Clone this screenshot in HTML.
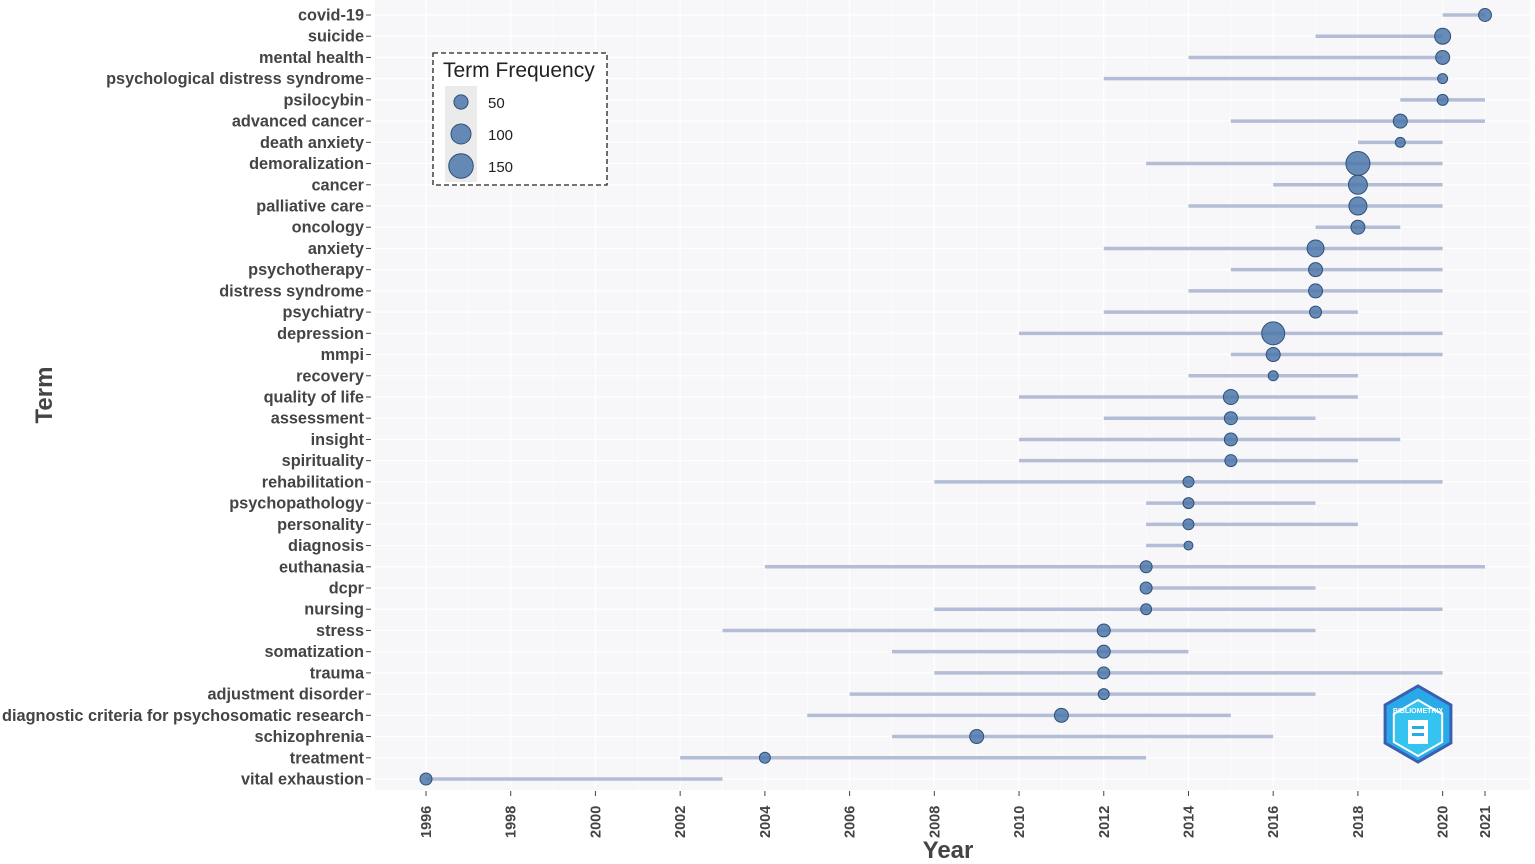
<!DOCTYPE html>
<html><head><meta charset="utf-8">
<style>
body{margin:0;background:#fff;font-family:"Liberation Sans",sans-serif;}
svg{display:block}
</style></head>
<body>
<svg id="chart" width="1535" height="864" xmlns="http://www.w3.org/2000/svg"></svg>
<script>
const terms=["covid-19","suicide","mental health","psychological distress syndrome","psilocybin","advanced cancer","death anxiety","demoralization","cancer","palliative care","oncology","anxiety","psychotherapy","distress syndrome","psychiatry","depression","mmpi","recovery","quality of life","assessment","insight","spirituality","rehabilitation","psychopathology","personality","diagnosis","euthanasia","dcpr","nursing","stress","somatization","trauma","adjustment disorder","diagnostic criteria for psychosomatic research","schizophrenia","treatment","vital exhaustion"];
const startYear=[2020,2017,2014,2012,2019,2015,2018,2013,2016,2014,2017,2012,2015,2014,2012,2010,2015,2014,2010,2012,2010,2010,2008,2013,2013,2013,2004,2013,2008,2003,2007,2008,2006,2005,2007,2002,1996];
const medianYear=[2021,2020,2020,2020,2020,2019,2019,2018,2018,2018,2018,2017,2017,2017,2017,2016,2016,2016,2015,2015,2015,2015,2014,2014,2014,2014,2013,2013,2013,2012,2012,2012,2012,2011,2009,2004,1996];
const endYear=[2021,2020,2020,2020,2021,2021,2020,2020,2020,2020,2019,2020,2020,2020,2018,2020,2020,2018,2018,2017,2019,2018,2020,2017,2018,2014,2021,2017,2020,2017,2014,2020,2017,2015,2016,2013,2003];
const freq=[42,64,49,25,30,49,25,144,90,81,49,72,49,49,36,132,49,25,56,42,42,36,30,30,30,20,36,36,30,42,42,36,30,49,49,30,36];
const xTicks=[1996,1998,2000,2002,2004,2006,2008,2010,2012,2014,2016,2018,2020,2021];
const legendVals=[50,100,150];

const svg=document.getElementById('chart');
const NS="http://www.w3.org/2000/svg";
function mk(t,a,p){const e=document.createElementNS(NS,t);for(const k in a)e.setAttribute(k,a[k]);(p||svg).appendChild(e);return e;}
const plotL=375,plotR=1530,plotT=0,plotB=790;
const x=y=>426+(y-1996)*(1485-426)/25;
const yPos=i=>15+i*(779-15)/(terms.length-1);
const rad=f=>Math.sqrt(f);

const bg=mk('rect',{x:plotL,y:plotT,width:plotR-plotL,height:plotB-plotT,fill:'#f7f7f9'});


for(let yr=1996;yr<=2021;yr++){mk('line',{x1:x(yr),x2:x(yr),y1:plotT,y2:plotB,stroke:'#ffffff','stroke-width':yr%2==0?1.2:0.6});}
terms.forEach((t,i)=>{mk('line',{x1:plotL,x2:plotR,y1:yPos(i),y2:yPos(i),stroke:'#ffffff','stroke-width':1.2});});

terms.forEach((t,i)=>{
  const tx=mk('text',{x:364,y:yPos(i)+5.5,'text-anchor':'end','font-size':16.3,'font-weight':'bold',fill:'#444'});
  tx.textContent=t;
  
  
  mk('line',{x1:366,x2:371,y1:yPos(i),y2:yPos(i),stroke:'#444','stroke-width':1});
});
xTicks.forEach(yr=>{
  mk('line',{x1:x(yr),x2:x(yr),y1:plotB+1,y2:plotB+6,stroke:'#444'});
  const tx=mk('text',{x:0,y:0,transform:`translate(${x(yr)+5},${plotB+48}) rotate(-90)`,'font-size':14.5,'font-weight':'bold',fill:'#444'});
  tx.textContent=yr;
  
  
});
const xt=mk('text',{x:948,y:858,'text-anchor':'middle','font-size':24,'font-weight':'bold',fill:'#444'});
xt.textContent='Year';


const yt=mk('text',{x:0,y:0,transform:'translate(52,395) rotate(-90)','text-anchor':'middle','font-size':24,'font-weight':'bold',fill:'#444'});
yt.textContent='Term';



terms.forEach((t,i)=>{
  const ln=mk('line',{x1:x(startYear[i]),x2:x(endYear[i]),y1:yPos(i),y2:yPos(i),stroke:'#b4bdd6','stroke-width':3.5});
  
  
});
terms.forEach((t,i)=>{
  const c=mk('circle',{cx:x(medianYear[i]),cy:yPos(i),r:rad(freq[i]),fill:'#4d78ab','fill-opacity':0.85,stroke:'#2f4f78','stroke-width':1});
  
  
});

const lg=mk('g',{});


mk('rect',{x:433,y:53,width:174,height:132,fill:'#fff',stroke:'#222','stroke-width':1.3,'stroke-dasharray':'5,3'},lg);
const lt=mk('text',{x:443,y:77,'font-size':21,fill:'#222'},lg);lt.textContent='Term Frequency';
mk('rect',{x:445,y:86,width:32,height:96,fill:'#ebebeb'},lg);
legendVals.forEach((v,k)=>{
  const cy=102+k*32;
  const c=mk('circle',{cx:461,cy:cy,r:rad(v),fill:'#4d78ab','fill-opacity':0.85,stroke:'#2f4f78'},lg);
  
  
  const t=mk('text',{x:488,y:cy+6,'font-size':15,fill:'#222'},lg);t.textContent=v;
});

const g=mk('g',{});


const cx=1418,cy=724,R=38;
let pts=[];for(let k=0;k<6;k++){const a=Math.PI/6+k*Math.PI/3;pts.push((cx+R*Math.cos(a)).toFixed(1)+','+(cy+R*Math.sin(a)).toFixed(1));}
mk('polygon',{points:pts.join(' '),fill:'#2aa9e8',stroke:'#3a5fb0','stroke-width':3},g);
pts=[];for(let k=0;k<6;k++){const a=Math.PI/6+k*Math.PI/3;pts.push((cx+28*Math.cos(a)).toFixed(1)+','+(cy+4+28*Math.sin(a)).toFixed(1));}
mk('polygon',{points:pts.join(' '),fill:'#35c3f0',stroke:'#fff','stroke-width':2},g);
mk('rect',{x:1408,y:720,width:20,height:24,fill:'#fff'},g);
mk('rect',{x:1412,y:726,width:12,height:3,fill:'#2aa9e8'},g);
mk('rect',{x:1412,y:733,width:12,height:3,fill:'#2aa9e8'},g);
const lt2=mk('text',{x:cx,y:713,'text-anchor':'middle','font-size':7,'font-weight':'bold',fill:'#fff'},g);lt2.textContent='BIBLIOMETRIX';
</script>
</body></html>
